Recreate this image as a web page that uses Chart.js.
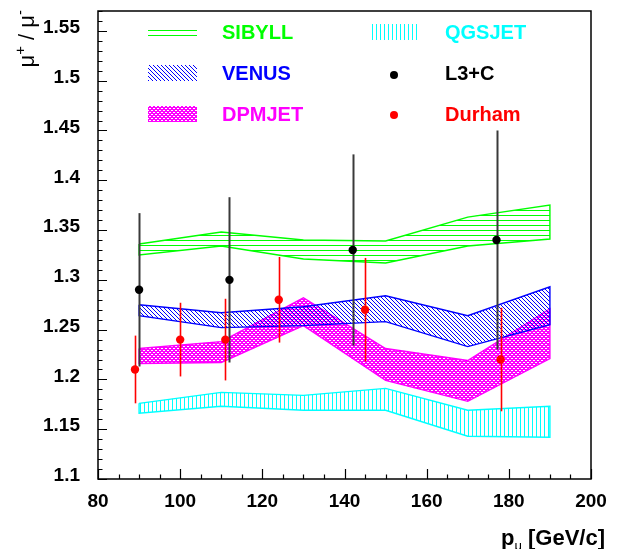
<!DOCTYPE html>
<html><head><meta charset="utf-8">
<script src="https://cdn.jsdelivr.net/npm/chart.js@4.4.1/dist/chart.umd.min.js"></script>
<style>html,body{margin:0;padding:0;background:#fff}#wrap{width:619px;height:549px}</style>
</head><body><div id="wrap"><canvas id="c" width="619" height="549"></canvas></div>
<script>
// ---- data ----
const modelMomenta = [90, 110, 130, 150, 170, 190];
const sibyllUpper = [1.336, 1.348, 1.340, 1.339, 1.363, 1.375];
const sibyllLower = [1.325, 1.334, 1.321, 1.317, 1.334, 1.341];
const venusUpper  = [1.275, 1.267, 1.273, 1.284, 1.264, 1.293];
const venusLower  = [1.264, 1.252, 1.254, 1.258, 1.233, 1.255];
const dpmjetUpper = [1.231, 1.238, 1.282, 1.231, 1.219, 1.271];
const dpmjetLower = [1.216, 1.217, 1.254, 1.199, 1.178, 1.221];
const qgsjetUpper = [1.176, 1.187, 1.184, 1.191, 1.169, 1.173];
const qgsjetLower = [1.166, 1.173, 1.169, 1.169, 1.143, 1.142];

const l3cMomenta = [90, 112, 142, 177];
const l3cRatio   = [1.29, 1.30, 1.33, 1.34];
const l3cError   = [0.077, 0.083, 0.096, 0.11];

const durhamMomenta = [89, 100, 111, 124, 145, 178];
const durhamRatio   = [1.21, 1.24, 1.24, 1.28, 1.27, 1.22];
const durhamError   = [0.034, 0.037, 0.041, 0.043, 0.052, 0.052];

const xTickValues = [80, 100, 120, 140, 160, 180, 200];
const xTickLabels = ['80', '100', '120', '140', '160', '180', '200'];
const yTickValues = [1.1, 1.15, 1.2, 1.25, 1.3, 1.35, 1.4, 1.45, 1.5, 1.55];
const yTickLabels = ['1.1', '1.15', '1.2', '1.25', '1.3', '1.35', '1.4', '1.45', '1.5', '1.55'];

const legendNames = ['SIBYLL', 'QGSJET', 'VENUS', 'L3+C', 'DPMJET', 'Durham'];

// ---- styling helpers ----
const FONT = '"Liberation Sans", Arial, Helvetica, sans-serif';
Chart.defaults.font.family = FONT;
const canvas = document.getElementById('c');
const mainCtx = canvas.getContext('2d');

function hatch(kind, color) {
  const size = kind === 'h' ? 5 : 4;
  const c = document.createElement('canvas');
  c.width = size; c.height = size;
  const g = c.getContext('2d');
  g.fillStyle = color;
  if (kind === 'h') g.fillRect(0, 0, size, 1);
  else if (kind === 'v') g.fillRect(0, 0, 1, size);
  else if (kind === 'd') { for (let i = 0; i < size; i++) g.fillRect(i, i, 1, 1); }
  else if (kind === 'x') {
    g.fillRect(0, 0, size, size);
    g.clearRect(1, 0, 2, 1);
    g.clearRect(3, 2, 1, 1);
    g.clearRect(0, 2, 1, 1);
  }
  return mainCtx.createPattern(c, 'repeat');
}

const GREEN = '#00ff00', BLUE = '#0000ff', MAGENTA = '#ff00ff', CYAN = '#00ffff', RED = '#ff0000';
const pats = {
  SIBYLL: hatch('h', GREEN),
  VENUS: hatch('d', BLUE),
  DPMJET: hatch('x', MAGENTA),
  QGSJET: hatch('v', CYAN)
};

function polygon(xs, up, lo) {
  const pts = xs.map((x, i) => ({ x: x, y: up[i] }));
  for (let i = xs.length - 1; i >= 0; i--) pts.push({ x: xs[i], y: lo[i] });
  pts.push({ x: xs[0], y: up[0] });
  return pts;
}
function band(label, up, lo, color) {
  return {
    label: label, data: polygon(modelMomenta, up, lo), showLine: true, fill: 'shape',
    backgroundColor: pats[label], borderColor: color, borderWidth: 1.4,
    pointRadius: 0, pointHoverRadius: 0, tension: 0
  };
}
function pointsSet(label, xs, ys, color) {
  return {
    label: label, data: xs.map((x, i) => ({ x: x, y: ys[i] })), showLine: false,
    pointRadius: 4.2, pointHoverRadius: 4.2, backgroundColor: color, borderColor: color, borderWidth: 0
  };
}

const errorInfo = {
  'L3+C': { err: l3cError, color: '#3a3a3a', width: 2 },
  'Durham': { err: durhamError, color: RED, width: 1.6 }
};

const decorPlugin = {
  id: 'decor',
  beforeDatasetDraw(chart, args) {
    const ds = chart.data.datasets[args.index];
    const info = errorInfo[ds.label];
    if (!info) return;
    const { ctx, scales: { x, y } } = chart;
    ctx.save();
    ctx.strokeStyle = info.color; ctx.lineWidth = info.width;
    ds.data.forEach((p, i) => {
      const px = Math.round(x.getPixelForValue(p.x)) + 0.5;
      ctx.beginPath();
      ctx.moveTo(px, y.getPixelForValue(p.y - info.err[i]));
      ctx.lineTo(px, y.getPixelForValue(p.y + info.err[i]));
      ctx.stroke();
    });
    ctx.restore();
  },
  afterDraw(chart) {
    const { ctx, chartArea: a, scales: { x, y } } = chart;
    ctx.save();
    // frame
    ctx.strokeStyle = '#000'; ctx.lineWidth = 1.5;
    ctx.strokeRect(a.left, a.top, a.right - a.left, a.bottom - a.top);
    // y ticks (inward)
    ctx.lineWidth = 1.2;
    ctx.beginPath();
    for (let k = 110; k <= 157; k++) {
      const v = k / 100;
      const py = Math.round(y.getPixelForValue(v)) + 0.5;
      const major = yTickValues.some(t => Math.abs(t - v) < 1e-6);
      ctx.moveTo(a.left, py); ctx.lineTo(a.left + (major ? 9 : 4.5), py);
    }
    // x ticks (inward)
    for (let v = 80; v <= 200; v += 5) {
      const px = Math.round(x.getPixelForValue(v)) + 0.5;
      const major = xTickValues.indexOf(v) >= 0;
      ctx.moveTo(px, a.bottom); ctx.lineTo(px, a.bottom - (major ? 10 : 4.5));
    }
    ctx.stroke();

    // legend
    const rows = [32, 73, 114];
    const swL = 148, swW = 49, sw2L = 371, sw2W = 46;
    const txt1 = 222, txt2 = 445;
    ctx.font = 'bold 20px ' + FONT;
    ctx.textBaseline = 'middle'; ctx.textAlign = 'left';
    const leftItems = [['SIBYLL', GREEN], ['VENUS', BLUE], ['DPMJET', MAGENTA]];
    leftItems.forEach(([name, col], r) => {
      const cy = rows[r];
      ctx.fillStyle = pats[name];
      if (name === 'SIBYLL') ctx.fillRect(swL, cy - 6, swW, 12);
      else ctx.fillRect(swL, cy - 8, swW, 16);
      ctx.fillStyle = col;
      ctx.fillText(name, txt1, cy + 1);
    });
    // right column
    ctx.fillStyle = pats.QGSJET; ctx.fillRect(sw2L, rows[0] - 8, sw2W, 16);
    ctx.fillStyle = CYAN; ctx.fillText(legendNames[1], txt2, rows[0] + 1);
    ctx.fillStyle = '#000';
    ctx.beginPath(); ctx.arc(394, rows[1] + 2, 4, 0, Math.PI * 2); ctx.fill();
    ctx.fillText(legendNames[3], txt2, rows[1] + 1);
    ctx.fillStyle = RED;
    ctx.beginPath(); ctx.arc(394, rows[2] + 1, 4, 0, Math.PI * 2); ctx.fill();
    ctx.fillText(legendNames[5], txt2, rows[2] + 1);

    // axis titles
    ctx.fillStyle = '#000';
    ctx.save();
    ctx.translate(34, 10);
    ctx.rotate(-Math.PI / 2);
    const ySegs = [['\u03bc', 0], ['+', 1], [' / \u03bc', 0], ['-', 1]];
    drawRich(ctx, ySegs, 'right', '22px ' + FONT, '15px ' + FONT);
    ctx.restore();
    ctx.save();
    ctx.translate(605, 545);
    const xSegs = [['p', 0], ['\u03bc', -1], [' [GeV/c]', 0]];
    drawRich(ctx, xSegs, 'right', 'bold 22px ' + FONT, '13px ' + FONT);
    ctx.restore();
    ctx.restore();
  }
};

function drawRich(ctx, segs, align, mainFont, smallFont) {
  ctx.textAlign = 'left'; ctx.textBaseline = 'alphabetic';
  let total = 0;
  segs.forEach(([t, s]) => { ctx.font = s ? smallFont : mainFont; total += ctx.measureText(t).width; });
  let xpos = align === 'right' ? -total : 0;
  segs.forEach(([t, s]) => {
    ctx.font = s ? smallFont : mainFont;
    const dy = s === 1 ? -9 : (s === -1 ? 5 : 0);
    ctx.fillText(t, xpos, dy);
    xpos += ctx.measureText(t).width;
  });
}

new Chart(canvas, {
  type: 'scatter',
  data: {
    datasets: [
      pointsSet('Durham', durhamMomenta, durhamRatio, RED),
      pointsSet('L3+C', l3cMomenta, l3cRatio, '#000'),
      band('SIBYLL', sibyllUpper, sibyllLower, GREEN),
      band('VENUS', venusUpper, venusLower, BLUE),
      band('DPMJET', dpmjetUpper, dpmjetLower, MAGENTA),
      band('QGSJET', qgsjetUpper, qgsjetLower, CYAN)
    ]
  },
  options: {
    responsive: false, animation: false, devicePixelRatio: 1,
    layout: { padding: { top: 11, right: 28, left: 0, bottom: 0 } },
    plugins: { legend: { display: false }, tooltip: { enabled: false } },
    events: [],
    scales: {
      x: {
        type: 'linear', min: 80, max: 200,
        grid: { display: false }, border: { display: false },
        afterBuildTicks: s => { s.ticks = xTickValues.map(v => ({ value: v })); },
        afterFit: s => { s.height = 70; s.paddingLeft = 0; s.paddingRight = 0; },
        ticks: {
          padding: 3, color: '#000', font: { size: 19, weight: 'bold' }, maxRotation: 0,
          callback: v => xTickLabels[xTickValues.indexOf(v)]
        }
      },
      y: {
        type: 'linear', min: 1.1, max: 1.57,
        grid: { display: false }, border: { display: false },
        afterBuildTicks: s => { s.ticks = yTickValues.map(v => ({ value: v })); },
        afterFit: s => { s.width = 98; s.paddingTop = 0; s.paddingBottom = 0; },
        ticks: {
          padding: 10, labelOffset: -3, color: '#000', font: { size: 19, weight: 'bold' },
          callback: v => { const i = yTickValues.findIndex(t => Math.abs(t - v) < 1e-9); return i >= 0 ? yTickLabels[i] : ''; }
        }
      }
    }
  },
  plugins: [decorPlugin]
});
</script>
</body></html>
